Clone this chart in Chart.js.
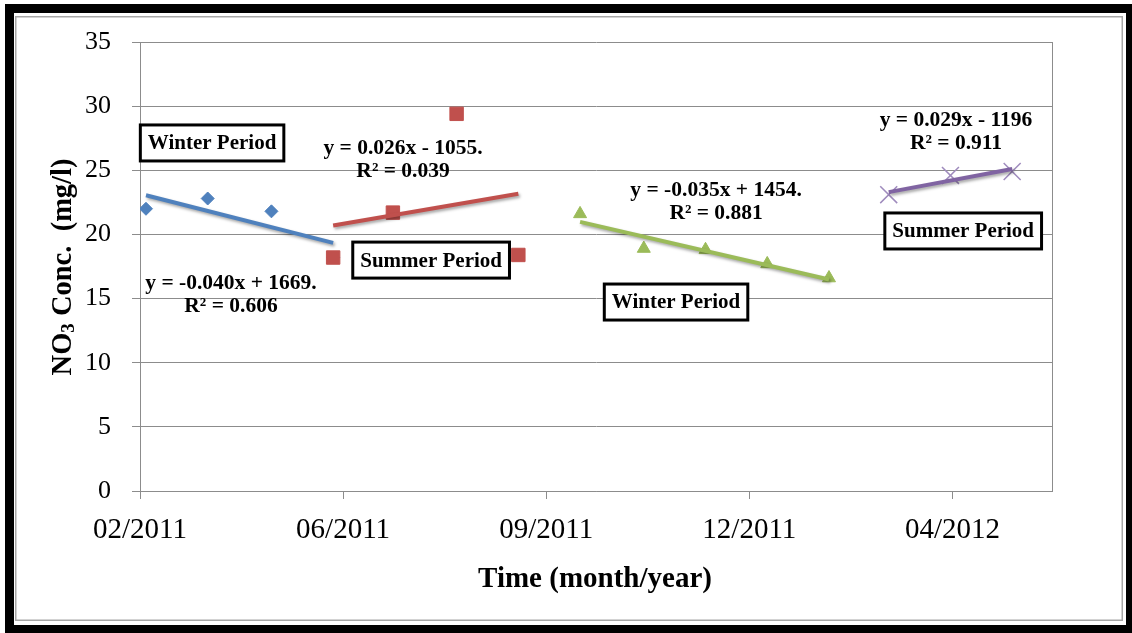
<!DOCTYPE html>
<html>
<head>
<meta charset="utf-8">
<script src="https://cdn.jsdelivr.net/npm/chart.js@4.4.1/dist/chart.umd.min.js"></script>
<style>
  html, body { margin: 0; padding: 0; background: #fff; }
  #wrap { width: 1132px; height: 633px; }
</style>
</head>
<body>
<div id="wrap"><canvas id="chartNitrato" width="1132" height="633"></canvas></div>
<script>
// ============================
// DADOS (dias desde 02/2011, mg/l)
// ============================
var tickDays = [0, 102, 204, 306, 408];
var tickLabels = ['02/2011', '06/2011', '09/2011', '12/2011', '04/2012'];

var winter1Days = [3, 34, 66, 97];
var winter1Values = [22.0, 22.8, 21.8, 18.2];

var summer1Days = [97, 127, 159, 190];
var summer1Values = [18.2, 21.7, 29.4, 18.4];

var winter2Days = [221, 253, 284, 315, 346];
var winter2Values = [21.6, 18.9, 18.8, 17.7, 16.6];

var summer2Days = [376, 407, 438];
var summer2Values = [23.1, 24.6, 24.9];

var periodLabels = ['Winter Period', 'Summer Period', 'Winter Period', 'Summer Period'];
var equationLabels = [
    ['y = -0.040x + 1669.', 'R\u00b2 = 0.606'],
    ['y = 0.026x - 1055.', 'R\u00b2 = 0.039'],
    ['y = -0.035x + 1454.', 'R\u00b2 = 0.881'],
    ['y = 0.029x - 1196', 'R\u00b2 = 0.911']
];

// cores no estilo Excel
var azul = '#4F81BD', vermelho = '#C0504D', verde = '#9BBB59', roxo = '#8064A2';
var cinza = '#8c8c8c';
var fonte = "'Liberation Serif', 'Times New Roman', serif";

function pontos(xs, ys) {
    return xs.map(function (x, i) { return { x: x, y: ys[i] }; });
}

// linha de tendência (mínimos quadrados) entre o primeiro e o último ponto
function tendencia(xs, ys) {
    var n = xs.length, mx = 0, my = 0, sxy = 0, sxx = 0;
    for (var i = 0; i < n; i++) { mx += xs[i] / n; my += ys[i] / n; }
    for (var j = 0; j < n; j++) {
        sxy += (xs[j] - mx) * (ys[j] - my);
        sxx += (xs[j] - mx) * (xs[j] - mx);
    }
    var b = sxy / sxx, a = my - b * mx;
    var x0 = Math.min.apply(null, xs), x1 = Math.max.apply(null, xs);
    return [{ x: x0, y: a + b * x0 }, { x: x1, y: a + b * x1 }];
}

function linhaTendencia(xs, ys, cor) {
    return {
        type: 'line',
        data: tendencia(xs, ys),
        borderColor: cor,
        borderWidth: 4,
        pointRadius: 0,
        fill: false,
        order: 0,
        sombra: true
    };
}

// posições dos textos (em unidades do gráfico: dias / mg/l)
var caixas = [
    { x: 36.2, y: 27.13 },
    { x: 146.2, y: 18.0 },
    { x: 269.2, y: 14.73 },
    { x: 413.4, y: 20.27 }
];
var equacoes = [
    { x: 45.7, y: 16.14 },
    { x: 132.1, y: 26.74 },
    { x: 289.3, y: 23.46 },
    { x: 409.8, y: 28.92 }
];

// moldura da figura
var moldura = {
    id: 'moldura',
    beforeDraw: function (chart) {
        var ctx = chart.ctx;
        ctx.save();
        ctx.fillStyle = '#ffffff';
        ctx.fillRect(0, 0, chart.width, chart.height);
        ctx.fillStyle = '#000000';
        ctx.fillRect(5, 4, chart.width - 5, chart.height - 4);
        ctx.fillStyle = '#ffffff';
        ctx.fillRect(14, 13, 1112, 612);
        ctx.strokeStyle = '#a6a6a6';
        ctx.lineWidth = 1.5;
        ctx.strokeRect(15.75, 16.75, 1106.5, 603.5);
        ctx.restore();
    }
};

// sombra das linhas de tendência
var sombra = {
    id: 'sombra',
    beforeDatasetDraw: function (chart, args) {
        if (!chart.data.datasets[args.index].sombra) return;
        var ctx = chart.ctx;
        ctx.save();
        ctx.shadowColor = 'rgba(0,0,0,0.35)';
        ctx.shadowOffsetX = 1.5;
        ctx.shadowOffsetY = 2;
        ctx.shadowBlur = 3;
    },
    afterDatasetDraw: function (chart, args) {
        if (!chart.data.datasets[args.index].sombra) return;
        chart.ctx.restore();
    }
};

// textos, caixas e títulos dos eixos
var textos = {
    id: 'textos',
    afterDraw: function (chart) {
        var ctx = chart.ctx, sx = chart.scales.x, sy = chart.scales.y;
        var area = chart.chartArea;
        ctx.save();

        // borda direita da área do gráfico
        ctx.strokeStyle = cinza;
        ctx.lineWidth = 1;
        ctx.beginPath();
        ctx.moveTo(Math.round(area.right) + 0.5, area.top);
        ctx.lineTo(Math.round(area.right) + 0.5, area.bottom);
        ctx.stroke();

        ctx.fillStyle = '#000000';
        ctx.textAlign = 'center';
        ctx.textBaseline = 'middle';
        ctx.font = 'bold 21px ' + fonte;

        caixas.forEach(function (c, i) {
            var px = sx.getPixelForValue(c.x), py = sy.getPixelForValue(c.y);
            var w = ctx.measureText(periodLabels[i]).width + 15, h = 36;
            ctx.fillStyle = '#ffffff';
            ctx.fillRect(px - w / 2, py - h / 2, w, h);
            ctx.strokeStyle = '#000000';
            ctx.lineWidth = 3;
            ctx.strokeRect(px - w / 2, py - h / 2, w, h);
            ctx.fillStyle = '#000000';
            ctx.fillText(periodLabels[i], px, py + 1);
        });

        ctx.font = 'bold 21.5px ' + fonte;
        equacoes.forEach(function (e, i) {
            var px = sx.getPixelForValue(e.x), py = sy.getPixelForValue(e.y);
            equationLabels[i].forEach(function (linha, k) {
                ctx.fillText(linha, px, py + k * 23);
            });
        });

        // título do eixo x
        ctx.font = 'bold 29px ' + fonte;
        ctx.fillText('Time (month/year)', 595, 580);

        // título do eixo y com subscrito
        ctx.translate(71, 267);
        ctx.rotate(-Math.PI / 2);
        ctx.textAlign = 'left';
        ctx.textBaseline = 'alphabetic';
        var fGrande = 'bold 28.5px ' + fonte, fPequena = 'bold 19px ' + fonte;
        ctx.font = fGrande;
        var w1 = ctx.measureText('NO').width;
        var w3 = ctx.measureText(' Conc.  (mg/l)').width;
        ctx.font = fPequena;
        var w2 = ctx.measureText('3').width;
        var x0 = -(w1 + w2 + w3) / 2;
        ctx.font = fGrande;
        ctx.fillText('NO', x0, 0);
        ctx.font = fPequena;
        ctx.fillText('3', x0 + w1, 3);
        ctx.font = fGrande;
        ctx.fillText(' Conc.  (mg/l)', x0 + w1 + w2, 0);
        ctx.restore();
    }
};

var ctxNitrato = document.getElementById('chartNitrato');

var graficoNitrato = new Chart(ctxNitrato, {
    type: 'scatter',
    data: {
        datasets: [
            linhaTendencia(winter1Days, winter1Values, azul),
            linhaTendencia(summer1Days, summer1Values, vermelho),
            linhaTendencia(winter2Days, winter2Values, verde),
            linhaTendencia(summer2Days, summer2Values, roxo),
            {
                label: 'Summer 2011',
                data: pontos(summer1Days, summer1Values),
                pointStyle: 'rect',
                pointRadius: 9.5,
                backgroundColor: vermelho,
                borderColor: vermelho,
                order: 1
            },
            {
                label: 'Winter 2011',
                data: pontos(winter1Days, winter1Values),
                pointStyle: 'rectRot',
                pointRadius: 6.5,
                backgroundColor: azul,
                borderColor: azul,
                order: 2
            },
            {
                label: 'Winter 2011/2012',
                data: pontos(winter2Days, winter2Values),
                pointStyle: 'triangle',
                pointRadius: 7.5,
                backgroundColor: verde,
                borderColor: verde,
                order: 2
            },
            {
                label: 'Summer 2012',
                data: pontos(summer2Days, summer2Values),
                pointStyle: 'crossRot',
                pointRadius: 12,
                borderWidth: 1.5,
                backgroundColor: '#9f8bbd',
                borderColor: '#9f8bbd',
                order: 2
            }
        ]
    },
    options: {
        responsive: false,
        animation: false,
        layout: { padding: { left: 0, top: 42, right: 80, bottom: 0 } },
        plugins: {
            legend: { display: false },
            tooltip: { enabled: false }
        },
        scales: {
            x: {
                type: 'linear',
                min: 0,
                max: 458,
                afterFit: function (scale) { scale.height = 142; },
                afterBuildTicks: function (scale) {
                    scale.ticks = tickDays.map(function (d) { return { value: d }; });
                },
                ticks: {
                    color: '#000000',
                    font: { family: fonte, size: 29 },
                    padding: 14,
                    maxRotation: 0,
                    callback: function (value, index) { return tickLabels[index]; }
                },
                grid: { drawOnChartArea: false, color: cinza, tickLength: 8 },
                border: { color: cinza }
            },
            y: {
                min: 0,
                max: 35,
                afterFit: function (scale) { scale.width = 140; },
                ticks: {
                    stepSize: 5,
                    color: '#000000',
                    font: { family: fonte, size: 26 },
                    padding: 21
                },
                grid: { color: cinza, tickLength: 8 },
                border: { color: cinza }
            }
        }
    },
    plugins: [moldura, sombra, textos]
});
</script>
</body>
</html>
